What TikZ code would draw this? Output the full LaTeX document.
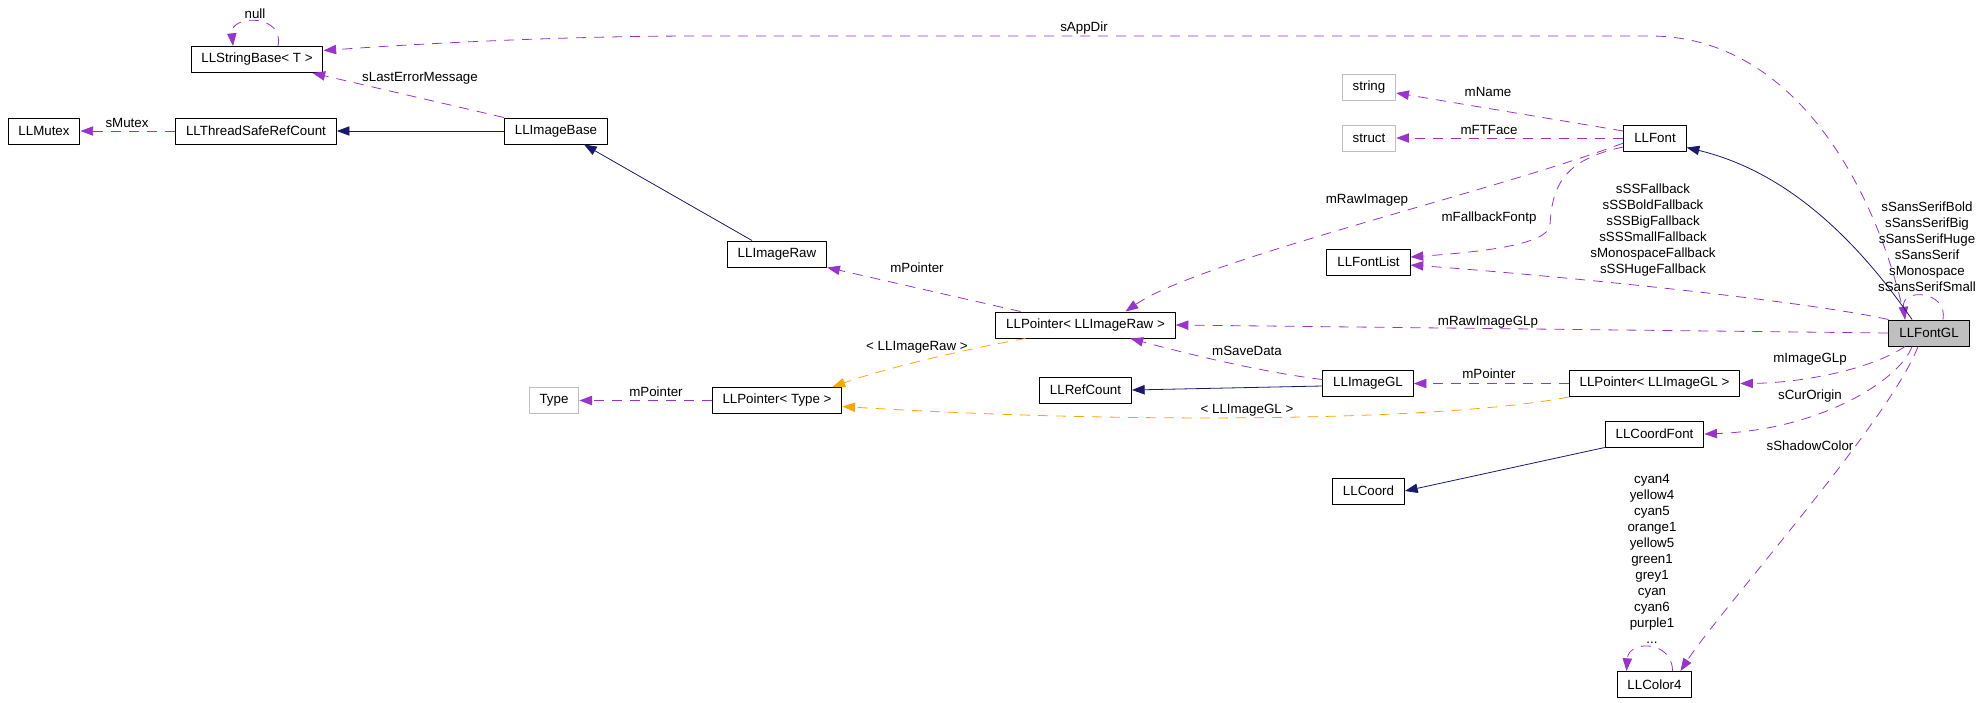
\documentclass[tikz,border=0pt]{standalone}
\usepackage{fontspec}
\setmainfont{Liberation Sans}
\usetikzlibrary{arrows.meta,calc}
\definecolor{edgepurple}{HTML}{9A32CD}
\definecolor{edgenavy}{HTML}{191970}
\definecolor{tmplorange}{HTML}{FFA500}
\definecolor{boxgray}{HTML}{BFBFBF}
\begin{document}
\begin{tikzpicture}[x=0.75pt, y=-0.75pt, line join=round, font=\fontsize{10}{12}\selectfont]
\tikzset{classbox/.style={draw, line width=0.75pt, minimum height=19.5pt, inner xsep=7.8pt, inner ysep=0pt},
  graybox/.style={classbox, draw=boxgray},
  lbl/.style={inner sep=0pt, align=center},
  assoc/.style={draw=edgepurple, line width=0.6pt, dash pattern=on 7.5pt off 6pt, -{Triangle[length=9.5pt,width=7pt]}},
  tmpl/.style={assoc, draw=tmplorange},
  inherit/.style={draw=edgenavy, line width=0.6pt, -{Triangle[length=9.5pt,width=7pt]}}}
\path[use as bounding box] (0,0) rectangle (1977,703);
% classes
\node[classbox] (strbase) at (257,59.5) {LLStringBase< T >};
\node[classbox] (mutex) at (44,131) {LLMutex};
\node[classbox] (tsrc) at (256,131) {LLThreadSafeRefCount};
\node[classbox] (imgbase) at (556,131) {LLImageBase};
\node[classbox] (imgraw) at (777,254) {LLImageRaw};
\node[classbox] (ptrraw) at (1085.5,325) {LLPointer< LLImageRaw >};
\node[classbox] (ptrtype) at (777,400.5) {LLPointer< Type >};
\node[graybox] (type) at (554,400.5) {Type};
\node[classbox] (refcount) at (1085.5,390) {LLRefCount};
\node[classbox] (imggl) at (1368,383.5) {LLImageGL};
\node[classbox] (ptrgl) at (1654.5,383.5) {LLPointer< LLImageGL >};
\node[classbox] (coordfont) at (1654.5,434) {LLCoordFont};
\node[classbox] (coord) at (1368.5,491) {LLCoord};
\node[classbox] (color4) at (1654.5,684.5) {LLColor4};
\node[classbox, fill=boxgray] (fontgl) at (1929,333) {LLFontGL};
\node[classbox] (font) at (1655,138) {LLFont};
\node[graybox] (string) at (1369,87.5) {string};
\node[graybox] (struct) at (1369,138) {struct};
\node[classbox] (fontlist) at (1368.5,262) {LLFontList};
% connectors
\draw[assoc] ($(strbase.north)+(21,0)$) .. controls +(7,-32) and +(-3,-32) .. ($(strbase.north)+(-24,0)$);
\draw[assoc] ($(fontgl.north)+(-24,0)$) .. controls (1880,200) and (1800,36) .. (1650,36) -- (700,36) .. controls (550,36) and (400,45) .. ($(strbase.east)+(0,-9)$);
\draw[assoc] (imgbase.north west) -- ($(strbase.south east)+(-11,0)$);
\draw[assoc] (tsrc.west) -- (mutex.east);
\draw[inherit] (imgbase.west) -- (tsrc.east);
\draw[inherit] ($(imgraw.north)+(-25,0)$) -- ($(imgbase.south)+(28,0)$);
\draw[assoc] ($(ptrraw.north)+(-65,0)$) -- (imgraw.south east);
\draw[assoc] ($(font.west)+(0,5)$) .. controls (1500,190) and (1200,260) .. ($(ptrraw.north)+(40,0)$);
\draw[assoc] (fontgl.west) -- (ptrraw.east);
\draw[assoc] ($(imggl.west)+(0,-4)$) .. controls (1260,372) and (1180,352) .. ($(ptrraw.south)+(45,0)$);
\draw[tmpl] ($(ptrraw.south)+(-60,0)$) .. controls (960,350) and (880,370) .. ($(ptrtype.north east)+(-10,0)$);
\draw[tmpl] (ptrgl.south west) .. controls (1450,420) and (1150,425) .. ($(ptrtype.east)+(0,6)$);
\draw[assoc] (ptrtype.west) -- (type.east);
\draw[inherit] ($(imggl.west)+(0,2.5)$) -- (refcount.east);
\draw[assoc] (ptrgl.west) -- (imggl.east);
\draw[assoc] ($(fontgl.south)+(-24,0)$) .. controls (1870,370) and (1800,383) .. (ptrgl.east);
\draw[assoc] ($(fontgl.south)+(-17,0)$) .. controls (1900,380) and (1820,430) .. (coordfont.east);
\draw[assoc] ($(fontgl.south)+(-11,0)$) .. controls (1890,420) and (1720,610) .. ($(color4.north east)+(-12,0)$);
\draw[inherit] (coordfont.south west) -- (coord.east);
\draw[assoc] ($(color4.north)+(18,0)$) .. controls +(0,-31) and +(2,-31) .. ($(color4.north)+(-28,0)$);
\draw[assoc] ($(fontgl.north)+(14,0)$) .. controls +(5,-29) and +(-4,-32) .. ($(fontgl.north)+(-24,0)$);
\draw[inherit] ($(fontgl.north)+(-17,0)$) .. controls (1850,230) and (1780,170) .. ($(font.south east)+(0,-4)$);
\draw[assoc] (fontgl.north west) .. controls (1800,300) and (1550,275) .. ($(fontlist.east)+(0,3)$);
\draw[assoc] ($(font.west)+(0,-7)$) -- ($(string.east)+(0,5.5)$);
\draw[assoc] (font.west) -- (struct.east);
\draw[assoc] ($(font.west)+(0,9)$) .. controls (1560,160) and (1552,190) .. (1550,225) .. controls (1548,245) and (1480,252) .. ($(fontlist.east)+(0,-5)$);
% labels
\node[lbl] (lnull) at (255,14) {null};
\node[lbl] (lerr) at (420,78) {sLastErrorMessage};
\node[lbl] (lmutex) at (127,123) {sMutex};
\node[lbl] (lappdir) at (1084,28) {sAppDir};
\node[lbl] (lptrraw) at (917,268) {mPointer};
\node[lbl] (lrawp) at (1367,200) {mRawImagep};
\node[lbl] (lrawglp) at (1488,322) {mRawImageGLp};
\node[lbl] (lsave) at (1247,351) {mSaveData};
\node[lbl] (ltraw) at (917,347) {< LLImageRaw >};
\node[lbl] (ltgl) at (1247,410) {< LLImageGL >};
\node[lbl] (lptrtype) at (656,392) {mPointer};
\node[lbl] (lptrgl) at (1489,374) {mPointer};
\node[lbl] (lglp) at (1810,359) {mImageGLp};
\node[lbl] (lorigin) at (1810,396) {sCurOrigin};
\node[lbl] (lshadow) at (1810,446) {sShadowColor};
\node[lbl] (lname) at (1488,92) {mName};
\node[lbl] (lface) at (1489,130) {mFTFace};
\node[lbl] (lfbp) at (1489,218) {mFallbackFontp};
\node[lbl] (lfallback) at (1653,230) {sSSFallback\\sSSBoldFallback\\sSSBigFallback\\sSSSmallFallback\\sMonospaceFallback\\sSSHugeFallback};
\node[lbl] (lfonts) at (1927,247) {sSansSerifBold\\sSansSerifBig\\sSansSerifHuge\\sSansSerif\\sMonospace\\sSansSerifSmall};
\node[lbl] (lcolors) at (1652,559) {cyan4\\yellow4\\cyan5\\orange1\\yellow5\\green1\\grey1\\cyan\\cyan6\\purple1\\...};
\end{tikzpicture}
\end{document}
